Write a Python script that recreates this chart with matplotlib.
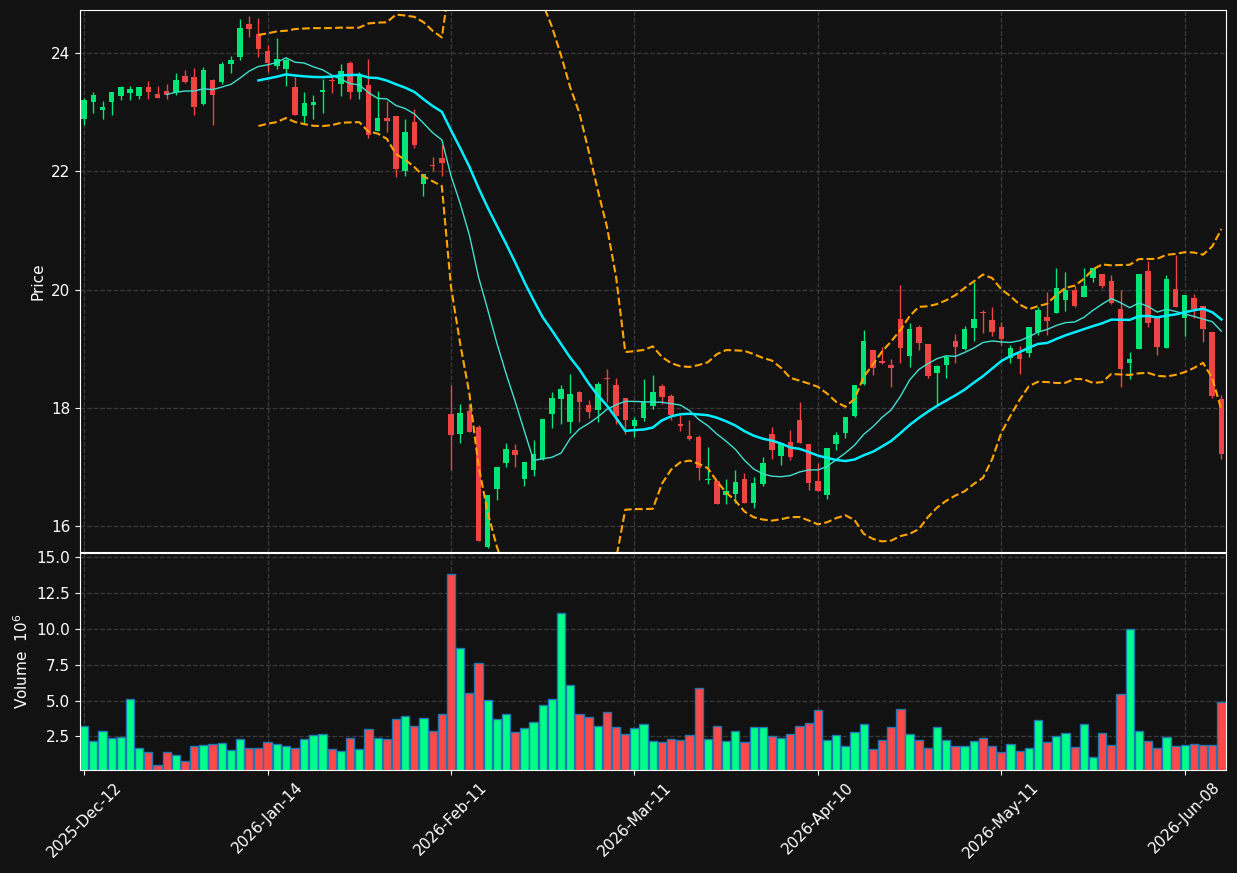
import numpy as np
import pandas as pd
import matplotlib
matplotlib.use("Agg")
import matplotlib.pyplot as plt

# ========= Data =========
holidays = ["2025-12-25", "2025-12-26", "2026-01-01", "2026-04-03", "2026-04-06", "2026-05-01"]
dates = pd.bdate_range("2025-12-12", periods=125, freq="C", holidays=holidays)

opens = [22.89, 23.18, 23.04, 23.18, 23.28, 23.33, 23.28, 23.42, 23.31, 23.36,
         23.35, 23.61, 23.59, 23.14, 23.54, 23.51, 23.82, 23.94, 24.49, 24.32,
         24.03, 23.79, 23.73, 23.42, 22.93, 23.13, 23.34, 23.54, 23.48, 23.83,
         23.35, 23.46, 22.69, 22.91, 22.93, 22.01, 22.83, 21.79, 22.11, 22.22,
         17.89, 17.55, 17.94, 17.67, 15.65, 16.63, 17.07, 17.28, 16.80, 16.95,
         17.14, 17.89, 18.15, 17.76, 18.26, 18.04, 17.97, 18.51, 18.38, 18.16,
         17.69, 17.83, 18.03, 18.37, 18.20, 17.72, 17.52, 17.50, 16.78, 16.76,
         16.53, 16.54, 16.79, 16.39, 16.71, 17.56, 17.19, 17.42, 17.79, 17.38,
         16.76, 16.52, 17.38, 17.58, 17.86, 18.41, 18.97, 18.79, 18.72, 19.50,
         18.88, 19.36, 19.08, 18.59, 18.72, 19.13, 18.99, 19.35, 19.62, 19.49,
         19.36, 18.85, 18.91, 18.93, 19.28, 19.53, 19.60, 19.82, 19.99, 19.88,
         20.20, 20.26, 20.14, 19.68, 18.75, 19.00, 20.31, 19.52, 19.01, 20.01,
         19.52, 19.85, 19.72, 19.28, 18.15]
highs = [23.25, 23.35, 23.19, 23.35, 23.45, 23.45, 23.42, 23.53, 23.44, 23.48,
         23.66, 23.71, 23.75, 23.76, 23.57, 23.85, 23.96, 24.58, 24.63, 24.60,
         24.14, 24.25, 23.92, 23.60, 23.34, 23.30, 23.57, 23.60, 23.81, 23.86,
         23.68, 23.91, 23.36, 23.19, 22.93, 22.89, 23.06, 21.96, 22.24, 22.45,
         18.39, 18.07, 18.07, 17.71, 16.53, 16.99, 17.40, 17.38, 17.08, 17.45,
         17.81, 18.27, 18.39, 18.58, 18.29, 18.14, 18.43, 18.66, 18.50, 18.17,
         17.84, 18.49, 18.56, 18.41, 18.24, 17.87, 17.79, 17.54, 17.34, 16.76,
         16.80, 16.94, 16.89, 16.83, 17.17, 17.67, 17.40, 17.63, 18.09, 17.38,
         17.07, 17.32, 17.59, 17.85, 18.38, 19.32, 18.97, 19.03, 18.83, 20.07,
         19.44, 19.40, 19.08, 18.72, 18.90, 19.25, 19.38, 20.13, 19.66, 19.71,
         19.45, 19.07, 19.04, 19.36, 19.70, 19.96, 20.36, 20.29, 20.06, 20.36,
         20.37, 20.26, 20.24, 20.00, 18.94, 20.27, 20.48, 19.52, 20.24, 20.58,
         19.91, 19.93, 19.72, 19.28, 18.22]
lows = [22.79, 22.98, 22.89, 22.95, 23.20, 23.20, 23.23, 23.22, 23.24, 23.23,
        23.30, 23.49, 22.95, 23.13, 22.79, 23.48, 23.66, 23.88, 24.27, 23.94,
        23.68, 23.74, 23.45, 22.96, 22.81, 22.89, 22.98, 23.32, 23.28, 23.22,
        23.22, 22.56, 22.69, 22.66, 21.90, 21.93, 22.39, 21.58, 22.01, 21.93,
        16.94, 17.41, 17.59, 15.75, 15.62, 16.44, 16.99, 16.99, 16.68, 16.84,
        17.11, 17.65, 17.72, 17.58, 17.76, 17.82, 17.76, 18.10, 17.72, 17.55,
        17.51, 17.78, 17.98, 18.07, 17.79, 17.61, 17.45, 16.78, 16.71, 16.37,
        16.37, 16.39, 16.39, 16.30, 16.68, 17.14, 17.03, 17.11, 17.40, 16.61,
        16.59, 16.46, 17.29, 17.49, 17.84, 18.38, 18.56, 18.74, 18.35, 18.76,
        18.69, 18.97, 18.50, 18.07, 18.51, 18.76, 18.97, 19.13, 19.27, 19.21,
        19.06, 18.75, 18.58, 18.86, 19.24, 19.23, 19.60, 19.63, 19.70, 19.87,
        20.12, 20.03, 19.75, 18.35, 18.48, 19.00, 19.36, 18.89, 19.01, 19.71,
        19.22, 19.52, 19.12, 18.16, 17.14]
closes = [23.20, 23.29, 23.09, 23.34, 23.42, 23.39, 23.42, 23.35, 23.24, 23.29,
          23.55, 23.51, 23.09, 23.71, 23.29, 23.81, 23.88, 24.43, 24.41, 24.07,
          23.83, 23.91, 23.88, 22.96, 23.15, 23.17, 23.37, 23.53, 23.70, 23.35,
          23.61, 22.61, 22.91, 22.86, 22.04, 22.66, 22.45, 21.96, 22.09, 22.14,
          17.54, 17.91, 17.59, 15.75, 16.52, 16.99, 17.31, 17.20, 17.08, 17.21,
          17.81, 18.16, 18.31, 18.23, 18.10, 17.93, 18.41, 18.49, 17.86, 17.79,
          17.80, 18.10, 18.26, 18.19, 17.87, 17.70, 17.48, 16.98, 16.80, 16.37,
          16.59, 16.74, 16.39, 16.72, 17.06, 17.29, 17.40, 17.17, 17.41, 16.72,
          16.59, 17.32, 17.54, 17.85, 18.38, 19.13, 18.68, 18.76, 18.68, 19.01,
          19.34, 19.10, 18.54, 18.70, 18.86, 19.03, 19.34, 19.51, 19.61, 19.28,
          19.17, 19.02, 18.83, 19.36, 19.66, 19.47, 20.02, 19.99, 19.72, 20.06,
          20.37, 20.06, 19.78, 18.65, 18.82, 20.27, 19.44, 19.03, 20.18, 19.71,
          19.91, 19.68, 19.33, 18.20, 17.21]
# volume in millions
volumes = [3.26, 2.15, 2.85, 2.36, 2.43, 5.14, 1.67, 1.39, 0.49, 1.39,
           1.18, 0.76, 1.81, 1.88, 1.94, 2.01, 1.53, 2.29, 1.67, 1.67,
           2.08, 1.94, 1.81, 1.67, 2.29, 2.57, 2.64, 1.60, 1.46, 2.36,
           1.60, 2.99, 2.36, 2.29, 3.75, 3.96, 3.26, 3.82, 2.85, 4.10,
           13.82, 8.68, 5.56, 7.64, 5.07, 3.75, 4.10, 2.78, 3.06, 3.54,
           4.72, 5.14, 11.11, 6.11, 4.10, 3.89, 3.26, 4.24, 3.19, 2.64,
           3.06, 3.40, 2.15, 2.08, 2.29, 2.22, 2.57, 5.90, 2.29, 3.26,
           2.15, 2.85, 2.08, 3.13, 3.13, 2.50, 2.36, 2.64, 3.26, 3.47,
           4.31, 2.22, 2.57, 1.81, 2.78, 3.40, 1.60, 2.22, 3.19, 4.38,
           2.64, 2.22, 1.67, 3.19, 2.22, 1.81, 1.81, 2.15, 2.36, 1.81,
           1.39, 1.94, 1.46, 1.67, 3.68, 2.08, 2.50, 2.71, 1.74, 3.40,
           1.04, 2.71, 1.88, 5.49, 10.00, 2.85, 2.15, 1.67, 2.43, 1.81,
           1.88, 1.94, 1.88, 1.88, 4.93]

# ========= Prepare =========
df = pd.DataFrame({"Open": opens, "High": highs, "Low": lows, "Close": closes,
                   "Volume": volumes}, index=dates)
df["sma10"] = df["Close"].rolling(10).mean()
df["sma20"] = df["Close"].rolling(20).mean()
std20 = df["Close"].rolling(20).std(ddof=0)
df["upper"] = df["sma20"] + 2 * std20
df["lower"] = df["sma20"] - 2 * std20

x = np.arange(len(df))
up = df["Close"] >= df["Open"]
candle_colors = np.where(up, "#00e676", "#ef4444")
vol_colors = np.where(up, "#00ff88", "#ff4848")

BG = "#121212"
GRID = "#3a3a3a"

# ========= Plot =========
fig = plt.figure(figsize=(12.37, 8.73), dpi=100, facecolor=BG)
ax = fig.add_axes([0.0647, 0.3677, 0.9264, 0.6208])
axv = fig.add_axes([0.0647, 0.1180, 0.9264, 0.2486], sharex=ax)

for a in (ax, axv):
    a.set_facecolor(BG)
    for s in a.spines.values():
        s.set_color("white")
    a.tick_params(colors="white", labelsize=11)
    a.grid(True, linestyle="--", color=GRID, linewidth=0.9)
    a.set_axisbelow(True)

# candles
ax.vlines(x, df["Low"], df["High"], color=candle_colors, linewidth=1)
body = np.maximum((df["Close"] - df["Open"]).abs(), 0.015)
ax.bar(x, body, bottom=np.minimum(df["Open"], df["Close"]), width=0.6,
       color=candle_colors, linewidth=0)

# indicators
ax.plot(x, df["sma10"], color="#40e0d0", linewidth=1)
ax.plot(x, df["sma20"], color="#00eeff", linewidth=1.8)
ax.plot(x, df["upper"], color="#ffa500", linewidth=1.5, linestyle="--")
ax.plot(x, df["lower"], color="#ffa500", linewidth=1.5, linestyle="--")

ax.set_ylim(15.56, 24.73)
ax.set_yticks([16, 18, 20, 22, 24])
ax.set_xlim(-0.45, 124.5)
ax.set_ylabel("Price", color="white", fontsize=11)
ax.tick_params(axis="x", labelbottom=False, length=0)

# volume
axv.bar(x, df["Volume"], width=0.9, color=vol_colors, edgecolor="#1f77b4", linewidth=1)
axv.set_ylim(0.16, 15.3)
axv.set_yticks([2.5, 5.0, 7.5, 10.0, 12.5, 15.0])
axv.set_yticklabels(["2.5", "5.0", "7.5", "10.0", "12.5", "15.0"])
axv.set_ylabel("Volume  $10^{6}$", color="white", fontsize=11)

tick_idx = x[::20]
axv.set_xticks(tick_idx)
axv.set_xticklabels([d.strftime("%Y-%b-%d") for d in dates[tick_idx]], rotation=45)

fig.savefig("out.png", dpi=100, facecolor=BG)
